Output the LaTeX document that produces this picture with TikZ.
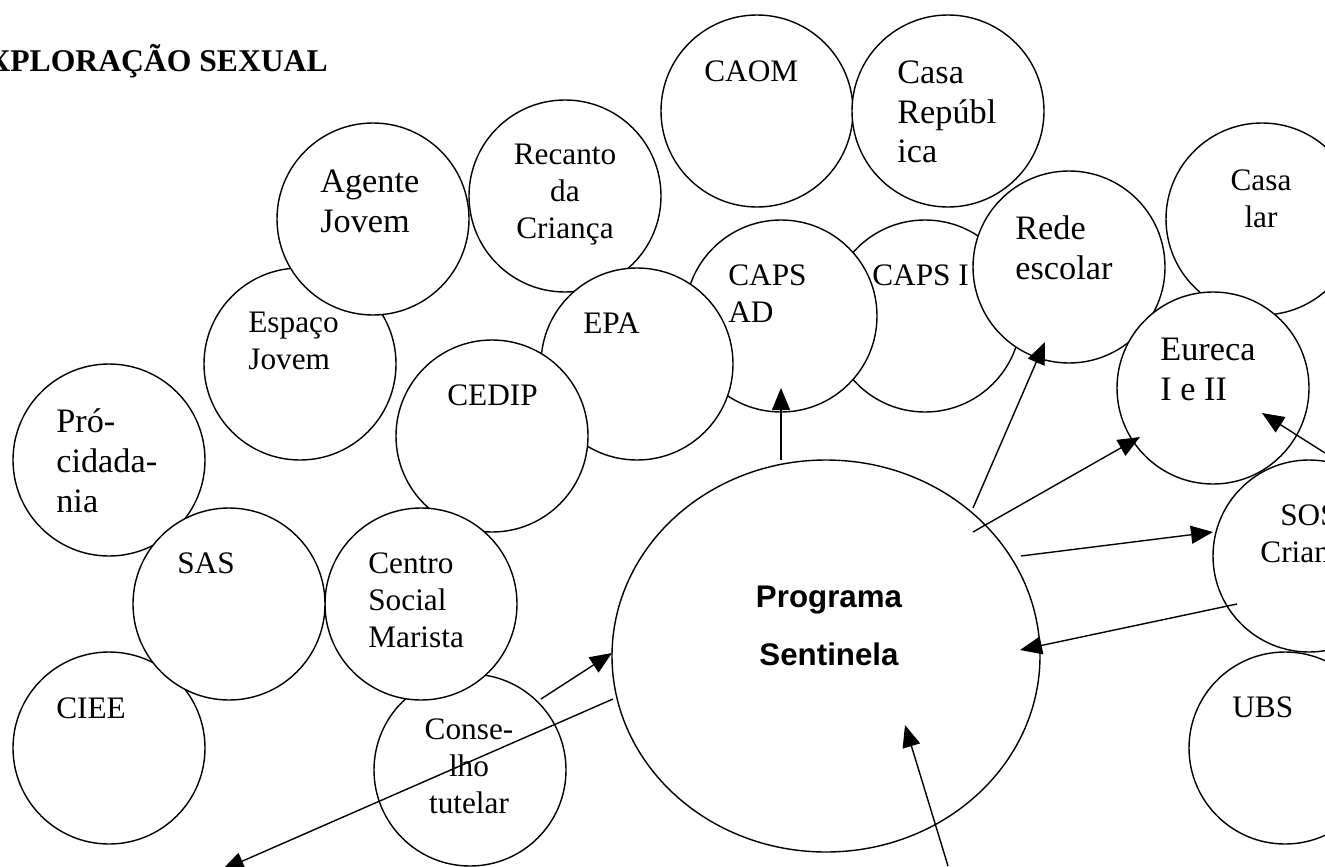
\documentclass[tikz,border=0pt]{standalone}
\usepackage{fontspec}
\setmainfont{Liberation Serif}
\newfontfamily\sentfont{Liberation Sans}
\usetikzlibrary{arrows.meta,shapes.geometric}

\tikzset{
  bubble/.style={circle,draw,fill=white,line width=0.8pt,minimum size=3.84cm,inner sep=0pt},
  smalltxt/.style={inner sep=0pt,font=\fontsize{17.8}{20.9}\selectfont},
  bigtxt/.style={inner sep=0pt,font=\fontsize{19.5}{22.5}\selectfont},
  conn/.style={line width=0.8pt,-{Triangle[length=4.4mm,width=3.6mm]}}
}

\begin{document}
\begin{tikzpicture}
\clip (0,0) rectangle (26.5,-17.32);
% upper left group (text anchored on its last line)
\node[bubble] (espaco) at (6.00,-7.28) {};
\node[smalltxt,align=left,anchor=base west] (espacotxt) at (4.96,-7.38) {Espaço\\Jovem};
\node[bubble] (agente) at (7.46,-4.38) {};
\node[bigtxt,align=left,anchor=base west] (agentetxt) at (6.40,-4.64) {Agente\\Jovem};
\node[bubble] (recanto) at (11.30,-3.92) {};
\node[smalltxt,align=center,anchor=base] (recantotxt) at (11.30,-4.76) {Recanto\\da\\Criança};
% CAPS, EPA, CEDIP
\node[bubble] (capsi) at (18.50,-6.32) {};
\node[smalltxt,anchor=base west] (capsitxt) at (17.44,-5.70) {CAPS I};
\node[bubble] (capsad) at (15.62,-6.32) {};
\node[smalltxt,align=left,anchor=base west] (capsadtxt) at (14.56,-6.44) {CAPS\\AD};
\node[bubble] (epa) at (12.74,-7.28) {};
\node[smalltxt,anchor=base west] (epatxt) at (11.66,-6.66) {EPA};
\node[bubble] (cedip) at (9.84,-8.72) {};
\node[smalltxt,anchor=base west] (ceciptxt) at (8.94,-8.10) {CEDIP};
% lower left group
\node[bubble] (conselho) at (9.40,-15.40) {};
\node[smalltxt,align=center,anchor=base] (conselhotxt) at (9.38,-16.26) {Conse-\\lho\\tutelar};
\node[bubble] (centro) at (8.42,-12.08) {};
\node[smalltxt,align=left,anchor=base west] (centrotxt) at (7.36,-12.94) {Centro\\Social\\Marista};
\node[bubble] (pro) at (2.18,-9.20) {};
\node[bigtxt,align=left,anchor=base west] (protxt) at (1.12,-10.24) {Pró-\\cidada-\\nia};
\node[bubble] (ciee) at (2.18,-14.96) {};
\node[smalltxt,anchor=base west] (cieetxt) at (1.12,-14.36) {CIEE};
\node[bubble] (sas) at (4.58,-12.08) {};
\node[smalltxt,anchor=base west] (sastxt) at (3.54,-11.46) {SAS};
% top right group
\node[bubble] (caom) at (15.14,-2.22) {};
\node[smalltxt,anchor=base west] (caomtxt) at (14.08,-1.64) {CAOM};
\node[bubble] (casarep) at (18.96,-2.22) {};
\node[bigtxt,align=left,anchor=base west] (casareptxt) at (17.94,-3.26) {Casa\\Repúbl\\ica};
\node[bubble] (rede) at (21.38,-5.34) {};
\node[bigtxt,align=left,anchor=base west] (redetxt) at (20.30,-5.58) {Rede\\escolar};
\node[bubble] (casalar) at (25.24,-4.38) {};
\node[smalltxt,align=center,anchor=base] (casalartxt) at (25.22,-4.54) {Casa\\lar};
\node[bubble] (eureca) at (24.26,-7.76) {};
\node[bigtxt,align=left,anchor=base west] (eurecatxt) at (23.20,-8.00) {Eureca\\I e II};
\node[bubble] (sos) at (26.18,-11.12) {};
\node[smalltxt,align=center,anchor=base] (sostxt) at (26.18,-11.24) {SOS\\Criança};
\node[bubble] (ubs) at (25.70,-14.96) {};
\node[smalltxt,anchor=base west] (ubstxt) at (24.64,-14.34) {UBS};
% centre
\node[ellipse,draw,fill=white,line width=0.8pt,minimum width=8.56cm,minimum height=7.84cm,inner sep=0pt] (sentinela) at (16.52,-13.12) {};
\node[align=center,anchor=base,inner sep=0pt,font=\sentfont\bfseries\fontsize{17.8}{33}\selectfont] (sentinelatxt) at (16.58,-13.30) {Programa\\Sentinela};
% arrows
\coordinate (s1) at (15.62,-9.20);
\coordinate (t1) at (15.62,-7.76);
\coordinate (s2) at (19.46,-10.16);
\coordinate (t2) at (20.90,-6.84);
\coordinate (s3) at (19.46,-10.64);
\coordinate (t3) at (22.80,-8.74);
\coordinate (s4) at (20.42,-11.12);
\coordinate (t4) at (24.26,-10.64);
\coordinate (s5) at (24.74,-12.08);
\coordinate (t5) at (20.40,-13.00);
\coordinate (s6) at (26.50,-9.06);
\coordinate (t6) at (25.24,-8.26);
\coordinate (s7) at (18.96,-17.32);
\coordinate (t7) at (18.10,-14.50);
\coordinate (s8) at (10.82,-13.98);
\coordinate (t8) at (12.24,-13.06);
\coordinate (s9) at (12.26,-13.98);
\coordinate (t9) at (4.44,-17.40);
\foreach \i in {1,...,9}
  \draw[conn] (s\i) -- (t\i);
% title
\node[anchor=base east,inner sep=0pt,font=\bfseries\fontsize{18}{21}\selectfont] (titulo) at (6.56,-1.44) {EXPLORAÇÃO SEXUAL};
\end{tikzpicture}
\end{document}
